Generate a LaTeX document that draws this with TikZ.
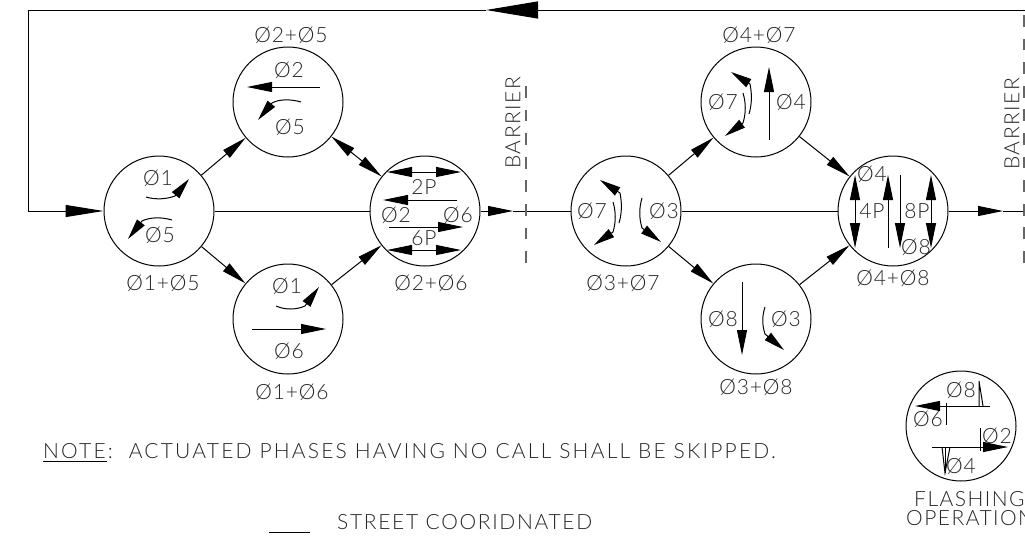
\documentclass[tikz,border=0pt]{standalone}
\usepackage{fontspec}
\setmainfont{Lato}[UprightFont=* Light,LetterSpace=4]
\newfontfamily\notefont{Lato}[UprightFont=* Light,LetterSpace=10.5]
\newfontfamily\streetfont{Lato}[UprightFont=* Light,LetterSpace=8]
\newfontfamily\wordfont{Lato}[UprightFont=* Light,LetterSpace=7]
\usetikzlibrary{arrows.meta}

\tikzset{
	phase/.style={circle,draw,line width=1pt,minimum size=110pt,inner sep=0pt},
	lbl/.style={inner sep=0pt,text=black!85,font=\fontsize{21}{23}\selectfont},
	word/.style={lbl,font=\fontsize{21}{23}\wordfont},
	note/.style={lbl,anchor=west,font=\fontsize{21}{23}\notefont},
	street/.style={lbl,anchor=west,font=\fontsize{21}{23}\streetfont},
	line/.style={line width=1pt},
	flow/.style={line,-{Triangle[length=25pt,width=10pt]}},
	bothflow/.style={line,{Triangle[length=25pt,width=10pt]}-{Triangle[length=25pt,width=10pt]}},
	inflow/.style={line,-{Triangle[length=38pt,width=12pt]}},
	topflow/.style={line,-{Triangle[length=52pt,width=17pt]}},
	turn/.style={line,-{Triangle[length=21pt,width=9.5pt]}},
	barrier/.style={line width=1.6pt,black!60,dash pattern=on 11.7pt off 11.9pt},
}

\begin{document}
\begin{tikzpicture}[x=1pt,y=-1pt]
	\useasboundingbox (0,0) rectangle (1025,547);

	\node[phase] (a) at (159,211) {};
	\node[phase] (b) at (288,102) {};
	\node[phase] (c) at (288,319) {};
	\node[phase] (d) at (425,211) {};
	\node[phase] (e) at (626,211) {};
	\node[phase] (f) at (756,102) {};
	\node[phase] (g) at (756,319) {};
	\node[phase] (h) at (893,211) {};
	\node[phase] (flash) at (961,426) {};

	\coordinate (tipde) at (513,211);
	\coordinate (tiphr) at (1003,211);
	\coordinate (cornerse) at (1027,211);
	\coordinate (cornerne) at (1027,10);
	\coordinate (tiptop) at (486,10);
	\coordinate (cornernw) at (28,10);
	\coordinate (cornersw) at (28,211);

	% connectors
	\draw[flow] (a) -- (b);
	\draw[flow] (a) -- (c);
	\draw[line] (a) -- (d);
	\draw[bothflow] (b) -- (d);
	\draw[flow] (c) -- (d);
	\draw[flow] (d) -- (tipde);
	\draw[line] (tipde) -- (e);
	\draw[flow] (e) -- (f);
	\draw[flow] (e) -- (g);
	\draw[line] (e) -- (h);
	\draw[flow] (f) -- (h);
	\draw[flow] (g) -- (h);
	\draw[flow] (h) -- (tiphr);
	\draw[line] (tiphr) -- (cornerse) -- (cornerne);
	\draw[topflow] (cornerne) -- (tiptop);
	\draw[line] (tiptop) -- (cornernw) -- (cornersw);
	\draw[inflow] (cornersw) -- (a);

	% barriers
	\draw[barrier] (525.7,86) -- (525.7,265);
	\draw[barrier] (1024,15) -- (1024,265);
	\node[word,rotate=90] (barrierl) at (513,123) {BARRIER};
	\node[word,rotate=90] (barrierr) at (1012,124) {BARRIER};

	% state names
	\node[lbl] (namea) at (163,283) {Ø1+Ø5};
	\node[lbl] (nameb) at (291,35) {Ø2+Ø5};
	\node[lbl] (namec) at (292,392) {Ø1+Ø6};
	\node[lbl] (named) at (431,283) {Ø2+Ø6};
	\node[lbl] (namee) at (623,283) {Ø3+Ø7};
	\node[lbl] (namef) at (759,35) {Ø4+Ø7};
	\node[lbl] (nameg) at (756,387) {Ø3+Ø8};
	\node[lbl] (nameh) at (893,278) {Ø4+Ø8};

	% a
	\node[lbl] (a1) at (158,178) {Ø1};
	\node[lbl] (a5) at (160,235) {Ø5};
	\draw[turn] (146,197) .. controls (156,200) and (167,199) .. (175,196) -- (189,179);
	\draw[turn] (172,220) .. controls (162,217) and (150,217) .. (142,221) -- (128,239);

	% b
	\node[lbl] (b2) at (289,70) {Ø2};
	\node[lbl] (b5) at (290,127) {Ø5};
	\draw[flow] (320,87) -- (247,87);
	\draw[turn] (301,102) .. controls (291,99) and (279,99) .. (272,103) -- (258,120);

	% c
	\node[lbl] (c1) at (287,286) {Ø1};
	\node[lbl] (c6) at (289,351) {Ø6};
	\draw[turn] (276,306) .. controls (285,310) and (296,310) .. (305,306) -- (319,287);
	\draw[flow] (252,329) -- (326,329);

	% d
	\node[lbl] (d2p) at (424,187) {2P};
	\node[lbl] (d2) at (396,215) {Ø2};
	\node[lbl] (d6) at (458,215) {Ø6};
	\node[lbl] (d6p) at (424,238) {6P};
	\draw[bothflow] (387,172) -- (461,172);
	\draw[flow] (457,200) -- (383,200);
	\draw[flow] (389,227) -- (463,227);
	\draw[bothflow] (387,250) -- (461,250);

	% e
	\node[lbl] (e7) at (592,211) {Ø7};
	\node[lbl] (e3) at (664,211) {Ø3};
	\draw[turn] (619,223) .. controls (622,213) and (622,203) .. (620,193) -- (600,180);
	\draw[turn] (613,202) .. controls (616,212) and (616,222) .. (613,232) -- (594,245);
	\draw[turn] (642,198) .. controls (639,208) and (639,218) .. (642,228) -- (661,242);

	% f
	\node[lbl] (f7) at (723,102) {Ø7};
	\node[lbl] (f4) at (791,102) {Ø4};
	\draw[turn] (749,114) .. controls (752,104) and (752,94) .. (750,84) -- (731,72);
	\draw[turn] (743,93) .. controls (746,103) and (746,113) .. (743,123) -- (725,136);
	\draw[flow] (769,140) -- (769,67);

	% g
	\node[lbl] (g8) at (723,319) {Ø8};
	\node[lbl] (g3) at (786,319) {Ø3};
	\draw[flow] (742,282) -- (742,355);
	\draw[turn] (765,307) .. controls (762,316) and (762,325) .. (765,334) -- (784,350);

	% h
	\node[lbl] (h4) at (872,174) {Ø4};
	\node[lbl] (h4p) at (872,211) {4P};
	\node[lbl] (h8p) at (917,211) {8P};
	\node[lbl] (h8) at (916,247) {Ø8};
	\draw[bothflow] (855,175) -- (855,248);
	\draw[flow] (888,248) -- (888,175);
	\draw[flow] (900,175) -- (900,248);
	\draw[bothflow] (931,175) -- (931,248);

	% flash
	\node[lbl] (fl8) at (961,390) {Ø8};
	\node[lbl] (fl6) at (928,419) {Ø6};
	\node[lbl] (fl2) at (997,436) {Ø2};
	\node[lbl] (fl4) at (961,466) {Ø4};
	\draw[flow] (990,406) -- (915,406);
	\draw[flow] (932,447) -- (1008,447);
	\draw[line] (946,403) -- (946,425);
	\draw[line] (980,428) -- (980,451);
	\draw[line] (979,406) -- (979,381) -- (983,406);
	\draw[line] (942,447) -- (945,473) -- (950,447);
	\draw[line] (945,447) -- (945,473);
	\node[word,anchor=west] (flashing) at (914,499) {FLASHING};
	\node[word,anchor=west] (operation) at (906,518) {OPERATION};

	% notes
	\node[note] (note) at (43,451) {NOTE:\ \ ACTUATED PHASES HAVING NO CALL SHALL BE SKIPPED.};
	\draw[line] (43,461) -- (107,461);
	\node[street] (street) at (337,522) {STREET COORIDNATED};
	\draw[line] (269,532) -- (310,532);
\end{tikzpicture}
\end{document}
